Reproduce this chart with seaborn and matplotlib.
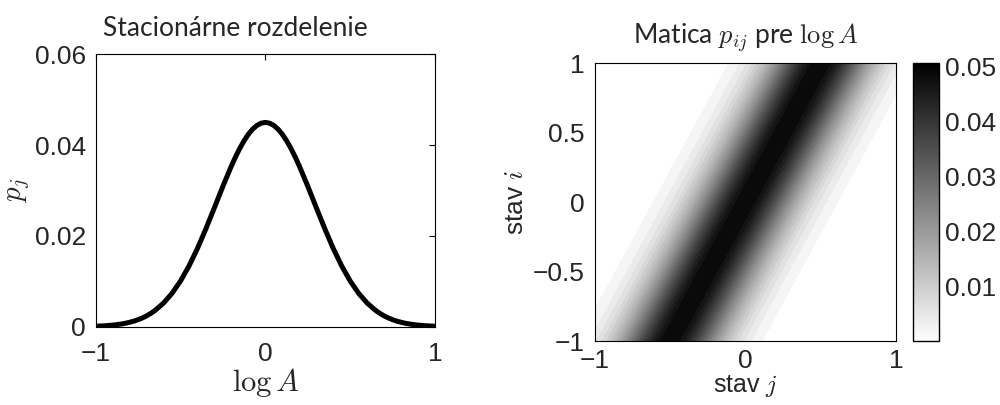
import numpy as np
import pandas as pd
import matplotlib
matplotlib.use("Agg")
import matplotlib.pyplot as plt
from matplotlib.cm import ScalarMappable
from matplotlib.colors import Normalize
import seaborn as sns

# ---- data ----
log_A = [-1.00, -0.95, -0.90, -0.85, -0.825, -0.80, -0.775, -0.75, -0.725, -0.70, -0.675,
         -0.65, -0.60, -0.55, -0.50, -0.45, -0.40, -0.35, -0.30, -0.25, -0.20, -0.175,
         -0.15, -0.125, -0.10, -0.075, -0.05, -0.025, 0.00,
         0.025, 0.05, 0.075, 0.10, 0.125, 0.15, 0.175, 0.20, 0.25, 0.30, 0.35, 0.40,
         0.45, 0.50, 0.55, 0.60, 0.65, 0.675, 0.70, 0.725, 0.75, 0.775, 0.80, 0.825,
         0.85, 0.90, 0.95, 1.00]
p_j = [0.00011, 0.00020, 0.00035, 0.00059, 0.00076, 0.00098, 0.00123, 0.00155, 0.00193, 0.00239, 0.00294,
       0.00359, 0.00521, 0.00735, 0.01007, 0.01338, 0.01726, 0.02161, 0.02625, 0.03095, 0.03542, 0.03746,
       0.03933, 0.04098, 0.04239, 0.04351, 0.04433, 0.04483, 0.04500,
       0.04483, 0.04433, 0.04351, 0.04239, 0.04098, 0.03933, 0.03746, 0.03542, 0.03095, 0.02625, 0.02161, 0.01726,
       0.01338, 0.01007, 0.00735, 0.00521, 0.00359, 0.00294, 0.00239, 0.00193, 0.00155, 0.00123, 0.00098, 0.00076,
       0.00059, 0.00035, 0.00020, 0.00011]

# transition matrix p_ij: band centred at j = band_slope * i, profile across the band
band_slope = 0.5
band_offsets = [0.00, 0.05, 0.10, 0.15, 0.20, 0.25, 0.30, 0.35, 0.40, 0.45, 0.50,
                0.55, 0.60, 0.65, 0.70, 0.75, 0.80, 0.90, 1.00, 2.00]
band_profile = [0.0505, 0.0493, 0.0458, 0.0406, 0.0345, 0.0280, 0.0218, 0.0163, 0.0117, 0.0081, 0.00540,
                0.00350, 0.00220, 0.00135, 0.00080, 0.00045, 0.00025, 0.00007, 0.00002, 0.0]
state_min, state_max, n_states = -1.0, 1.0, 201

left_yticks = [0, 0.02, 0.04, 0.06]
left_ytick_labels = ["0", "0.02", "0.04", "0.06"]
xticks = [-1, 0, 1]
xtick_labels = ["\u22121", "0", "1"]
right_yticks = [-1, -0.5, 0, 0.5, 1]
right_ytick_labels = ["\u22121", "\u22120.5", "0", "0.5", "1"]
cbar_ticks = [0.01, 0.02, 0.03, 0.04, 0.05]
cbar_tick_labels = ["0.01", "0.02", "0.03", "0.04", "0.05"]

# ---- style ----
sns.set_theme(style="white")
plt.rcParams["font.family"] = ["Liberation Sans", "DejaVu Sans"]
plt.rcParams["mathtext.fontset"] = "cm"
plt.rcParams["xtick.direction"] = "in"
plt.rcParams["ytick.direction"] = "in"
plt.rcParams["axes.edgecolor"] = "black"
plt.rcParams["axes.linewidth"] = 0.8

TICK_FS = 19
TITLE_FS = 19
TITLE_FAMILY = ["Lato", "DejaVu Sans"]

fig = plt.figure(figsize=(10, 4.05), dpi=100)
axL = fig.add_axes([0.0957, 0.1933, 0.3393, 0.6726])
axR = fig.add_axes([0.5947, 0.158, 0.3013, 0.6857])
cax = fig.add_axes([0.913, 0.158, 0.026, 0.6857])

# ---- left: stationary distribution ----
df = pd.DataFrame({"log_A": log_A, "p_j": p_j})
sns.lineplot(data=df, x="log_A", y="p_j", ax=axL, color="black", linewidth=3.6,
             solid_joinstyle="round", solid_capstyle="round")
axL.set_xlim(-1, 1)
axL.set_ylim(0, 0.06)
axL.set_xticks(xticks)
axL.set_xticklabels(xtick_labels)
axL.set_yticks(left_yticks)
axL.set_yticklabels(left_ytick_labels)
axL.tick_params(labelsize=TICK_FS, top=True, right=True, length=4, width=0.8, color="black")
axL.tick_params(axis="x", pad=11)
axL.tick_params(axis="y", pad=7)
axL.set_xlabel(r"$\log A$", fontsize=22, labelpad=0)
axL.set_ylabel(r"$p_j$", fontsize=21, labelpad=2)
axL.set_title("Stacionárne rozdelenie", fontsize=TITLE_FS, pad=13, family=TITLE_FAMILY, x=0.413)
for s in axL.spines.values():
    s.set_visible(True)
    s.set_color("black")

# ---- right: transition matrix ----
states = np.linspace(state_min, state_max, n_states)
J, I = np.meshgrid(states, states)
P = np.interp(np.abs(J - band_slope * I), band_offsets, band_profile)
vmax = max(band_profile)
levels = np.linspace(0, vmax, 26)
cmap = plt.get_cmap("gray_r")
band_colors = [cmap(lv / vmax) for lv in levels[:-1]]
axR.contourf(states, states, P, levels=levels, colors=band_colors)
axR.set_xlim(-1, 1)
axR.set_ylim(-1, 1)
axR.set_xticks(xticks)
axR.set_xticklabels(xtick_labels)
axR.set_yticks(right_yticks)
axR.set_yticklabels(right_ytick_labels)
axR.tick_params(labelsize=TICK_FS, top=True, right=True, length=4, width=0.8, color="black")
axR.tick_params(axis="x", pad=6)
axR.tick_params(axis="y", pad=7)
axR.set_xlabel(r"stav $j$", fontsize=18, labelpad=0)
axR.set_ylabel(r"stav $i$", fontsize=19, labelpad=4)
axR.set_title(r"Matica $p_{ij}$ pre $\log A$", fontsize=TITLE_FS, pad=14, family=TITLE_FAMILY)
for s in axR.spines.values():
    s.set_visible(True)
    s.set_color("black")

sm = ScalarMappable(norm=Normalize(0, vmax), cmap=cmap)
cb = fig.colorbar(sm, cax=cax)
cb.set_ticks(cbar_ticks)
cb.set_ticklabels(cbar_tick_labels)
cb.ax.tick_params(labelsize=TICK_FS, direction="in", length=3, width=0.8, left=True, right=True, pad=4)
cb.outline.set_linewidth(1.0)
cb.outline.set_edgecolor("black")

fig.savefig("out.png", dpi=100, facecolor="white")
